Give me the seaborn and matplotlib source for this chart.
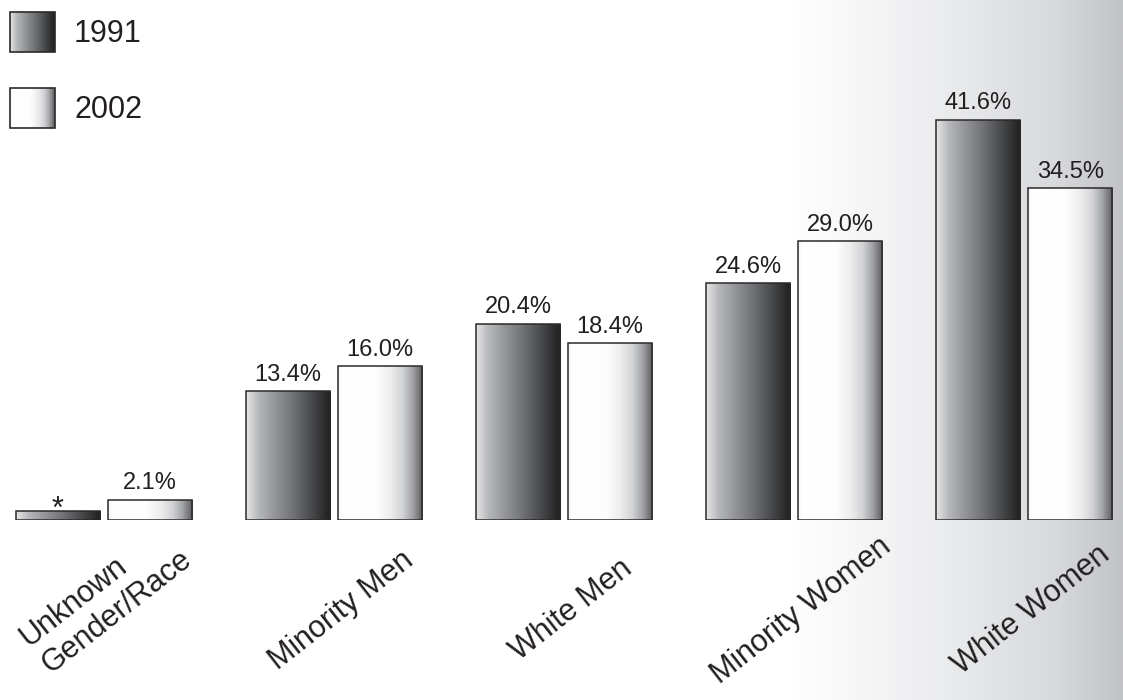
import numpy as np
import pandas as pd
import matplotlib
matplotlib.use("Agg")
import matplotlib.pyplot as plt
from matplotlib.colors import LinearSegmentedColormap
from matplotlib.patches import Rectangle
from matplotlib.transforms import ScaledTranslation
import seaborn as sns

# chart data
categories = ["Unknown\nGender/Race", "Minority Men", "White Men", "Minority Women", "White Women"]
years = ["1991", "2002"]
pct_1991 = [0.9, 13.4, 20.4, 24.6, 41.6]
pct_2002 = [2.1, 16.0, 18.4, 29.0, 34.5]
labels_1991 = ["*", "13.4%", "20.4%", "24.6%", "41.6%"]
labels_2002 = ["2.1%", "16.0%", "18.4%", "29.0%", "34.5%"]

df = pd.DataFrame({
    "group": categories * 2,
    "year": [years[0]] * len(categories) + [years[1]] * len(categories),
    "pct": pct_1991 + pct_2002,
})

sns.set_style("white")
plt.rcParams["font.family"] = ["Liberation Sans", "DejaVu Sans"]
text_color = "#231f20"

# gradients for the bars
cmap_91 = LinearSegmentedColormap.from_list("g91", [
    (0.0, "#e6e6e6"), (0.15, "#b6b7ba"), (0.35, "#939498"),
    (0.55, "#717275"), (0.78, "#47484a"), (1.0, "#1e1e1e")])
cmap_02 = LinearSegmentedColormap.from_list("g02", [
    (0.0, "#f4f4f4"), (0.05, "#ffffff"), (0.45, "#fdfdfd"), (0.62, "#ededee"),
    (0.76, "#d2d3d5"), (0.88, "#a2a3a6"), (1.0, "#5a5a5c")])
cmap_bg = LinearSegmentedColormap.from_list("bg", [
    (0.0, "#ffffff"), (0.5, "#e9eaec"), (0.8, "#d8d9dc"), (1.0, "#c2c3c6")])
ramp = np.linspace(0, 1, 256).reshape(1, -1)

W, H = 1123, 700
fig = plt.figure(figsize=(W / 100, H / 100), dpi=100)

# background with the grey fade on the right
bg = fig.add_axes([0, 0, 1, 1], zorder=0)
bg.imshow(ramp, cmap=cmap_bg, extent=[790, W, H, 0], aspect="auto")

# legend drawn by hand so the swatches get gradients
for i, (yr, cm) in enumerate(zip(years, [cmap_91, cmap_02])):
    top = 12 + i * 76
    sq = Rectangle((10, top), 45, 40, facecolor="none", edgecolor="#2a2a2a", lw=1.2, zorder=3)
    bg.add_patch(sq)
    im = bg.imshow(ramp, cmap=cm, extent=[10, 55, top + 40, top], aspect="auto", zorder=2)
    im.set_clip_path(sq)
    bg.text(74, top + 30, yr, fontsize=22, color=text_color, va="baseline", ha="left")
bg.set_xlim(0, W)
bg.set_ylim(H, 0)
bg.axis("off")

# main bars
ax = fig.add_axes([0, 180 / H, 1, 520 / H], zorder=1)
ax.set_facecolor("none")
sns.barplot(data=df, x="group", y="pct", hue="year", order=categories, hue_order=years,
            width=0.8, gap=0.087, legend=False, ax=ax)

for cont, cm, labs in zip(ax.containers, [cmap_91, cmap_02], [labels_1991, labels_2002]):
    for bar in cont:
        bar.set_facecolor("none")
        bar.set_edgecolor("#2a2a2a")
        bar.set_linewidth(1.1)
        bar.set_zorder(3)
        x0, y0 = bar.get_x(), bar.get_y()
        im = ax.imshow(ramp, cmap=cm, extent=[x0, x0 + bar.get_width(), y0, y0 + bar.get_height()],
                       aspect="auto", zorder=2)
        im.set_clip_path(bar)
    anns = ax.bar_label(cont, labels=labs, padding=4, fontsize=17, color=text_color)
    for a in anns:
        if a.get_text() == "*":
            a.set_fontsize(22)
            a.xyann = (0, -10)

ax.set_xlim(-0.452, 4.43)
ax.set_ylim(0, 54.08)
ax.set_xticks(range(len(categories)))
ax.set_xticklabels(categories, rotation=38, ha="center", va="center",
                   rotation_mode="anchor", fontsize=22, color=text_color)
ax.tick_params(axis="x", length=0, pad=65)
for i, lab in enumerate(ax.get_xticklabels()):
    lab.set_multialignment("left")
    dy = 12 / 100 if i == 0 else 0  # two-line label sits a bit higher
    dx = 2 / 100 if i == 0 else 7 / 100
    lab.set_transform(lab.get_transform() + ScaledTranslation(dx, dy, fig.dpi_scale_trans))
ax.set_yticks([])
ax.set_xlabel("")
ax.set_ylabel("")
sns.despine(ax=ax, left=True, bottom=True)

fig.savefig("out.png", dpi=100)
